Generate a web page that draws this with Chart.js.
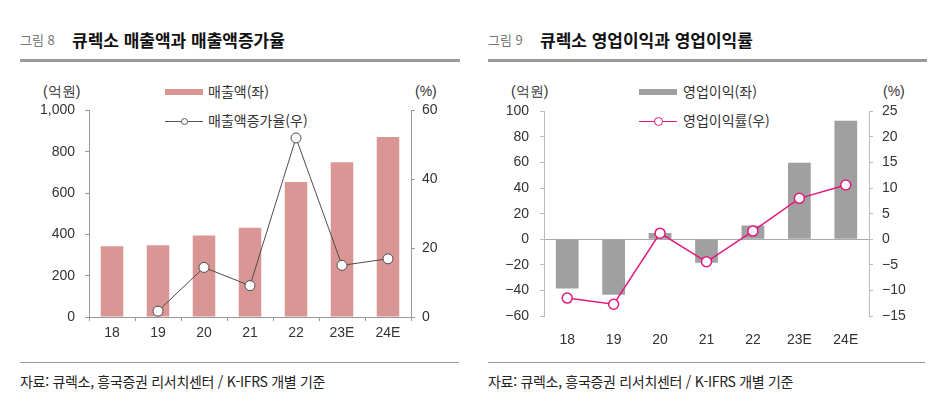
<!DOCTYPE html>
<html lang="ko">
<head>
<meta charset="utf-8">
<script src="https://cdn.jsdelivr.net/npm/chart.js@4"></script>
<style>
  body { margin: 0; background: #fff; width: 944px; height: 409px; position: relative; overflow: hidden;
         font-family: "Noto Sans CJK KR", sans-serif; color: #222; }
  .abs { position: absolute; white-space: nowrap; }
  .fig { font-size: 13px; color: #777; }
  .ttl { font-size: 17px; font-weight: bold; color: #111; }
  .rule { position: absolute; height: 3px; background: #999; }
  .foot-rule { position: absolute; height: 1px; background: #999; }
  .foot { font-size: 14px; color: #222; letter-spacing: -0.3px; }
  .unit { font-family: "Liberation Sans", sans-serif; font-size: 14px; color: #333; }
  .unit.kr { font-family: "Noto Sans CJK KR", sans-serif; }
  .lg { font-size: 14px; color: #333; }
  .swatch { position: absolute; height: 6px; width: 38px; }
  .lline { position: absolute; width: 38px; height: 0; }
  .ldot { position: absolute; width: 7px; height: 7px; border-radius: 50%; background: #fff; box-sizing: border-box; }
  canvas { position: absolute; }
</style>
</head>
<body>
<!-- headers -->
<div class="abs fig" style="left:20px; top:30px;">그림 8</div>
<div class="abs ttl" style="left:72px; top:27px;">큐렉소 매출액과 매출액증가율</div>
<div class="rule" style="left:20px; top:59px; width:440px;"></div>

<div class="abs fig" style="left:488px; top:30px;">그림 9</div>
<div class="abs ttl" style="left:540px; top:27px;">큐렉소 영업이익과 영업이익률</div>
<div class="rule" style="left:488px; top:59px; width:439px;"></div>

<!-- units -->
<div class="abs unit" style="left:43px; top:83px;">(<span class="kr">억원</span>)</div>
<div class="abs unit" style="left:415px; top:83px;">(%)</div>
<div class="abs unit" style="left:511px; top:83px;">(<span class="kr">억원</span>)</div>
<div class="abs unit" style="left:883px; top:83px;">(%)</div>

<!-- legends -->
<div class="swatch" style="left:165px; top:89px; background:#d99694;"></div>
<div class="abs lg" style="left:208px; top:81px;">매출액(좌)</div>
<div class="lline" style="left:165px; top:121px; border-top:1px solid #555;"></div>
<div class="ldot" style="left:181px; top:118px; border:1px solid #555;"></div>
<div class="abs lg" style="left:208px; top:110px;">매출액증가율(우)</div>

<div class="swatch" style="left:639px; top:89px; background:#a0a0a0;"></div>
<div class="abs lg" style="left:683px; top:81px;">영업이익(좌)</div>
<div class="lline" style="left:639px; top:121px; border-top:1.5px solid #e4197f;"></div>
<div class="ldot" style="left:654px; top:117px; width:9px; height:9px; border:1.5px solid #e4197f;"></div>
<div class="abs lg" style="left:683px; top:110px;">영업이익률(우)</div>

<canvas id="salesChart" style="left:20px; top:92px;" width="440" height="258"></canvas>
<canvas id="profitChart" style="left:474px; top:92px;" width="450" height="258"></canvas>

<!-- footers -->
<div class="foot-rule" style="left:20px; top:362px; width:439px;"></div>
<div class="abs foot" style="left:20px; top:371px;">자료: 큐렉소, 흥국증권 리서치센터 / K-IFRS 개별 기준</div>
<div class="foot-rule" style="left:488px; top:362px; width:437px;"></div>
<div class="abs foot" style="left:488px; top:371px;">자료: 큐렉소, 흥국증권 리서치센터 / K-IFRS 개별 기준</div>

<script>
// ===============================
// data
// ===============================
const years = ["18", "19", "20", "21", "22", "23E", "24E"];
const sales = [342, 347, 395, 432, 653, 749, 871];          // 억원
const salesGrowth = [null, 1.7, 14.4, 9.1, 52.0, 15.0, 16.9]; // %
const opProfit = [-38.5, -43.3, 4.9, -18.3, 10.8, 59.8, 92.6]; // 억원
const opMargin = [-11.5, -12.7, 1.2, -4.4, 1.6, 8.0, 10.6];    // %

const salesTicks = { min: 0, max: 1000, step: 200 };
const growthTicks = { min: 0, max: 60, step: 20 };
const profitTicks = { min: -60, max: 100, step: 20 };
const marginTicks = { min: -15, max: 25, step: 5 };

// ===============================
// common stuff
// ===============================
Chart.defaults.font.family = "'Liberation Sans', Arial, sans-serif";
Chart.defaults.font.size = 14;
Chart.defaults.color = "#333";
Chart.defaults.animation = false;

const minus = v => String(v).replace("-", "\u2212");

function yAxis(t, pos, width, pad, color, extra) {
  return Object.assign({
    position: pos,
    min: t.min, max: t.max,
    ticks: { stepSize: t.step, padding: pad, callback: v => minus(v.toLocaleString("en-US")) },
    grid: { drawOnChartArea: false, tickLength: 4, color: color },
    border: { color: color },
    afterFit: s => { s.width = width; }
  }, extra || {});
}

// ===============================
// 그림 8 : 매출액 / 매출액증가율
// ===============================
new Chart(document.getElementById("salesChart"), {
  data: {
    labels: years,
    datasets: [
      {
        type: "line", label: "매출액증가율(우)", data: salesGrowth, yAxisID: "y1", order: 0,
        borderColor: "#4d4d4d", borderWidth: 1, pointRadius: 5, pointBorderWidth: 1,
        pointBackgroundColor: "#fff", pointBorderColor: "#4d4d4d", tension: 0
      },
      {
        type: "bar", label: "매출액(좌)", data: sales, yAxisID: "y", order: 1,
        backgroundColor: "#d99694", barPercentage: 0.49, categoryPercentage: 1
      }
    ]
  },
  options: {
    responsive: false,
    layout: { padding: { top: 0 } },
    plugins: { legend: { display: false }, tooltip: { enabled: false } },
    scales: {
      x: {
        grid: { drawOnChartArea: false, tickLength: 4, color: "#999" },
        border: { color: "#999" },
        ticks: { padding: 4 },
        afterFit: s => { s.height = 33; }
      },
      y: yAxis(salesTicks, "left", 69, 10, "#999"),
      y1: yAxis(growthTicks, "right", 49, 7, "#999")
    }
  }
});

// ===============================
// 그림 9 : 영업이익 / 영업이익률
// ===============================
new Chart(document.getElementById("profitChart"), {
  data: {
    labels: years,
    datasets: [
      {
        type: "line", label: "영업이익률(우)", data: opMargin, yAxisID: "y1", order: 0,
        borderColor: "#e4197f", borderWidth: 1.5, pointRadius: 5, pointBorderWidth: 1.5,
        pointBackgroundColor: "#fff", pointBorderColor: "#e4197f", tension: 0
      },
      {
        type: "bar", label: "영업이익(좌)", data: opProfit, yAxisID: "y", order: 1,
        backgroundColor: "#a0a0a0", barPercentage: 0.49, categoryPercentage: 1
      }
    ]
  },
  options: {
    responsive: false,
    layout: { padding: { top: 0 } },
    plugins: { legend: { display: false }, tooltip: { enabled: false } },
    scales: {
      x: {
        grid: { display: false },
        border: { display: false },
        ticks: { padding: 8 },
        afterFit: s => { s.height = 34; }
      },
      y: yAxis(profitTicks, "left", 70, 11, "#bbb", {
        grid: {
          drawOnChartArea: true, tickLength: 4, tickColor: "#bbb",
          color: c => (c.tick && c.tick.value === 0 ? "#aaa" : "rgba(0,0,0,0)")
        }
      }),
      y1: yAxis(marginTicks, "right", 55, 9, "#bbb")
    }
  }
});
</script>
</body>
</html>
